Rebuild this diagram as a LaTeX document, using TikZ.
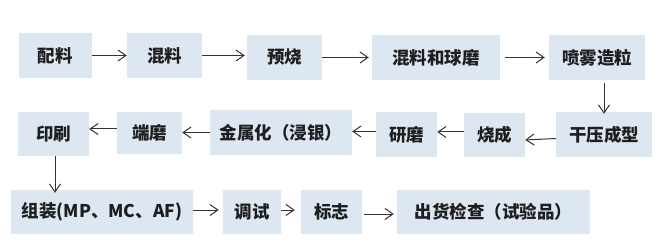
\documentclass[tikz,border=0pt]{standalone}
\usepackage{fontspec}
\setmainfont{Noto Sans CJK SC}
\usepackage{xcolor}
\usetikzlibrary{arrows.meta, positioning, calc}

\definecolor{boxfill}{HTML}{DDE7F2}
\definecolor{textdark}{HTML}{1E1E1E}
\definecolor{arrowgray}{HTML}{333333}

\begin{document}
\begin{tikzpicture}[
    x=1pt, y=-1pt,
    proc/.style={rectangle, fill=boxfill, minimum height=45pt, inner sep=2pt,
      align=center, font=\fontsize{17.5}{20}\selectfont\bfseries, text=textdark},
    arrow/.style={-{Straight Barb[length=8pt, width=11pt]}, draw=arrowgray, line width=1pt}
  ]
  \useasboundingbox (0,0) rectangle (664,251);

  % row 1: left to right
  \node[proc, minimum width=73pt]  (peiliao)  at (55,55.5)    {配料};
  \node[proc, minimum width=75pt]  (hunliao)  at (164.5,55.5) {混料};
  \node[proc, minimum width=75pt]  (yushao)   at (284.5,57.5) {预烧};
  \node[proc, minimum width=128pt] (qiumo)    at (436,57.5)   {混料和球磨};
  \node[proc, minimum width=96pt]  (penwu)    at (597,57.5)   {喷雾造粒};
  % row 2: right to left
  \node[proc, minimum width=96pt]  (ganya)    at (604,134.5)  {干压成型};
  \node[proc, minimum width=61pt, minimum height=44pt] (shaocheng) at (494.5,135) {烧成};
  \node[proc, minimum width=61pt]  (yanmo)    at (406.5,134.5) {研磨};
  \node[proc, minimum width=142pt] (jinshu)   at (281,132.5)  {金属化（浸银）};
  \node[proc, minimum width=65pt, minimum height=42pt] (duanmo) at (149.5,133) {端磨};
  \node[proc, minimum width=71pt, minimum height=44pt] (yinshua) at (53.5,134) {印刷};
  % row 3: left to right
  \node[proc, minimum width=182pt, minimum height=44pt] (zuzhuang) at (102,212) {组装(MP、MC、AF)};
  \node[proc, minimum width=58pt, minimum height=44pt]  (tiaoshi)  at (252,212) {调试};
  \node[proc, minimum width=61pt, minimum height=44pt]  (biaozhi)  at (331.5,212) {标志};
  \node[proc, minimum width=193pt, minimum height=44pt] (chuhuo)   at (493.5,212) {出货检查（试验品）};

  \draw[arrow] (peiliao.east) -- (peiliao.east -| hunliao.west);
  \draw[arrow] (hunliao.east) -- ([xshift=-2pt]hunliao.east -| yushao.west);
  \draw[arrow] (yushao.east) -- ([xshift=-3pt]yushao.east -| qiumo.west);
  \draw[arrow, shorten <=5pt] (qiumo.east) -- ([xshift=-4pt]qiumo.east -| penwu.west);
  \draw[arrow, shorten <=3pt] (penwu.south -| ganya) -- ([yshift=-2pt]ganya.north);

  \draw[arrow] ([yshift=-4pt]ganya.west) -- ([yshift=-5pt]shaocheng.east);
  \draw[arrow] ([yshift=3pt]shaocheng.west) -- ([yshift=3pt]shaocheng.west -| yanmo.east);
  \draw[arrow] ([yshift=3pt]yanmo.west) -- ([yshift=3pt]yanmo.west -| jinshu.east);
  \draw[arrow] (jinshu.west) -- (jinshu.west -| duanmo.east);
  \draw[arrow] ([yshift=4pt]duanmo.west) -- ([yshift=4pt]duanmo.west -| yinshua.east);
  \draw[arrow] (yinshua.south -| 55,0) -- ([yshift=-3pt]zuzhuang.north -| 55,0);

  \draw[arrow, shorten >=4pt] ([yshift=2pt]zuzhuang.east) -- ([yshift=2pt]zuzhuang.east -| tiaoshi.west);
  \draw[arrow, shorten >=6pt] ([yshift=2pt]tiaoshi.east) -- ([yshift=2pt]tiaoshi.east -| biaozhi.west);
  \draw[arrow, shorten <=2pt, shorten >=3pt] ([yshift=-2pt]biaozhi.east) -- ([yshift=-2pt]biaozhi.east -| chuhuo.west);
\end{tikzpicture}
\end{document}
